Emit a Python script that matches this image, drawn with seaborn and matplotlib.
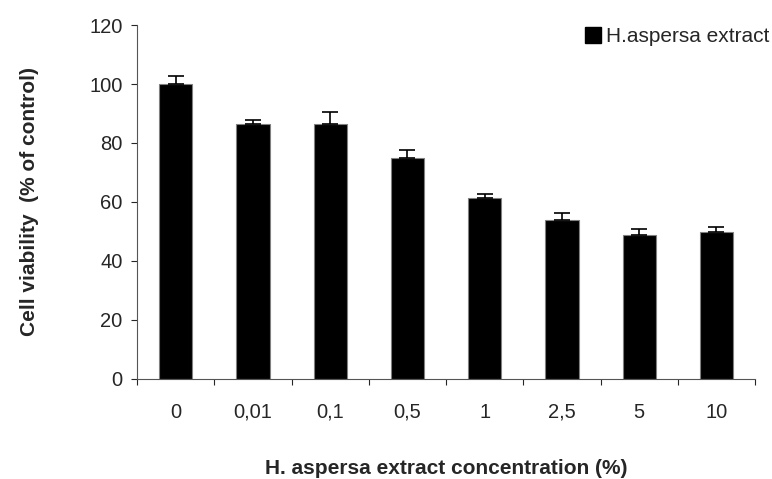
import matplotlib
matplotlib.use("Agg")
import matplotlib.pyplot as plt
import seaborn as sns
import pandas as pd
import numpy as np
from matplotlib.lines import Line2D

categories = ["0", "0,01", "0,1", "0,5", "1", "2,5", "5", "10"]
viability = [100.0, 86.3, 86.3, 74.9, 61.5, 53.8, 48.9, 49.9]
sem = [2.7, 1.5, 4.2, 2.7, 1.3, 2.6, 2.0, 1.6]
series_name = "H.aspersa extract"

sns.set_style("white")
plt.rcParams['font.family'] = ['Liberation Sans', 'DejaVu Sans']

df = pd.DataFrame({"conc": categories, "viability": viability})

fig = plt.figure(figsize=(7.72, 4.79), dpi=100)
ax = fig.add_axes([0.1775, 0.2088, 0.8005, 0.739])

sns.barplot(data=df, x="conc", y="viability", order=categories, color="black",
            edgecolor="#808080", linewidth=0.8, width=0.43, errorbar=None,
            saturation=1, ax=ax)

xpos = np.arange(len(categories))
ax.errorbar(xpos, viability, yerr=[np.zeros(len(sem)), sem], fmt="none",
            ecolor="black", elinewidth=1.2, capsize=6, capthick=1.2)

ax.set_xlim(-0.5, len(categories) - 0.5)
ax.set_ylim(0, 120)
ax.set_yticks(range(0, 121, 20))
ax.set_xticks(xpos)
ax.set_xticklabels(categories)
ax.set_xticks(np.arange(-0.5, len(categories), 1.0), minor=True)
ax.tick_params(axis="x", which="major", length=0, pad=17, labelsize=14.5)
ax.tick_params(axis="x", which="minor", length=4.5, width=0.8, direction="out", bottom=True)
ax.tick_params(axis="y", length=4.5, width=0.8, direction="out", left=True, labelsize=14.5, pad=6)

for s in ["top", "right"]:
    ax.spines[s].set_visible(False)
for s in ["left", "bottom"]:
    ax.spines[s].set_color("#555555")
    ax.spines[s].set_linewidth(0.8)

ax.set_xlabel("H. aspersa extract concentration (%)", fontsize=15, fontweight="bold", labelpad=27)
ax.set_ylabel("Cell viability  (% of control)", fontsize=15, fontweight="bold", labelpad=36)

handle = Line2D([], [], marker="s", color="black", linestyle="none", markersize=11)
ax.legend([handle], [series_name], loc="upper right", bbox_to_anchor=(1.053, 1.047),
          frameon=False, fontsize=15, handletextpad=0.1, handlelength=1.0)

fig.savefig("out.png", dpi=100)
